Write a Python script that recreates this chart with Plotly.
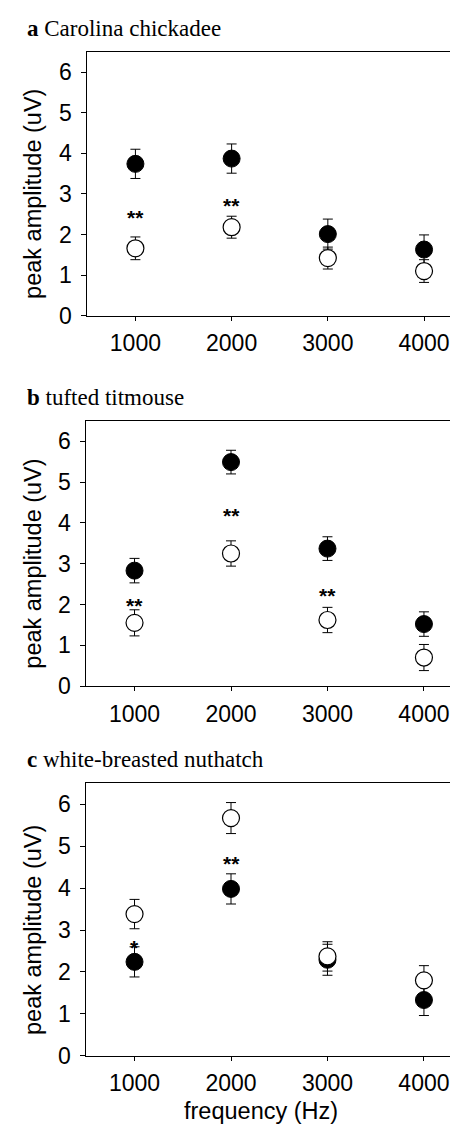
import plotly.graph_objects as go

W, H = 458, 1128

freqs = [1000, 2000, 3000, 4000]

# panel a: Carolina chickadee
a_filled = [3.74, 3.87, 2.01, 1.63]
a_filled_err = [0.36, 0.36, 0.37, 0.36]
a_open = [1.66, 2.18, 1.42, 1.10]
a_open_err = [0.28, 0.27, 0.27, 0.28]
a_sig_x = [1000, 2000]
a_sig_y = [2.57, 2.86]
a_sig_txt = ["**", "**"]

# panel b: tufted titmouse
b_filled = [2.83, 5.49, 3.37, 1.52]
b_filled_err = [0.30, 0.29, 0.29, 0.30]
b_open = [1.55, 3.25, 1.62, 0.70]
b_open_err = [0.32, 0.31, 0.31, 0.32]
b_sig_x = [1000, 2000, 3000]
b_sig_y = [2.12, 4.32, 2.36]
b_sig_txt = ["**", "**", "**"]

# panel c: white-breasted nuthatch
c_filled = [2.24, 3.98, 2.29, 1.33]
c_filled_err = [0.36, 0.36, 0.37, 0.37]
c_open = [3.38, 5.67, 2.37, 1.80]
c_open_err = [0.35, 0.37, 0.35, 0.35]
c_sig_x = [1000, 2000]
c_sig_y = [2.73, 4.73]
c_sig_txt = ["*", "**"]

panel_letters = ["a", "b", "c"]
panel_names = ["Carolina chickadee", "tufted titmouse", "white-breasted nuthatch"]
y_ticks = [0, 1, 2, 3, 4, 5, 6]
x_title = "frequency (Hz)"
y_title = "peak amplitude (uV)"

SANS = "Liberation Sans, Arial, Helvetica, sans-serif"
SERIF = "Liberation Serif, Times New Roman, serif"

# pixel layout of each panel box (top, bottom) and left edge
boxes = [(44.3, 311.3, 79.3), (417.7, 686.0, 78.3), (784.3, 1060.0, 78.3)]

panels = [
    (a_filled, a_filled_err, a_open, a_open_err, a_sig_x, a_sig_y, a_sig_txt),
    (b_filled, b_filled_err, b_open, b_open_err, b_sig_x, b_sig_y, b_sig_txt),
    (c_filled, c_filled_err, c_open, c_open_err, c_sig_x, c_sig_y, c_sig_txt),
]

fig = go.Figure()
annotations = []
layout = dict(
    width=W, height=H,
    margin=dict(l=0, r=0, t=0, b=0),
    paper_bgcolor="white", plot_bgcolor="white",
    showlegend=False,
    font=dict(family=SANS, color="black"),
)

for i, (filled, ferr, opn, oerr, sx, sy, stxt) in enumerate(panels):
    n = "" if i == 0 else str(i + 1)
    xa, ya = "x" + n, "y" + n
    top, bot, left = boxes[i]
    # filled circles
    fig.add_trace(go.Scatter(
        x=freqs, y=filled, xaxis=xa, yaxis=ya, mode="markers",
        marker=dict(symbol="circle", size=17, color="black",
                    line=dict(color="black", width=1)),
        error_y=dict(type="data", array=ferr, color="black", thickness=1, width=5),
        cliponaxis=False,
    ))
    # open circles
    fig.add_trace(go.Scatter(
        x=freqs, y=opn, xaxis=xa, yaxis=ya, mode="markers",
        marker=dict(symbol="circle", size=17, color="white",
                    line=dict(color="black", width=1.2)),
        error_y=dict(type="data", array=oerr, color="black", thickness=1, width=5),
        cliponaxis=False,
    ))
    for x, y, t in zip(sx, sy, stxt):
        annotations.append(dict(
            x=x, y=y, xref=xa, yref=ya, text="<b>" + t + "</b>", showarrow=False,
            font=dict(family=SANS, size=21, color="black"),
            xanchor="center", yanchor="middle", yshift=-6,
        ))
    layout["xaxis" + n] = dict(
        domain=[left / W, 1.0], range=[500, 4436], anchor=ya,
        tickvals=freqs, ticktext=[str(f) for f in freqs],
        showline=True, linecolor="black", linewidth=1, mirror=True,
        ticks="outside", ticklen=4, tickwidth=1, tickcolor="black",
        showgrid=False, zeroline=False,
        tickfont=dict(family=SANS, size=23, color="black"),
        ticklabelstandoff=3,
    )
    layout["yaxis" + n] = dict(
        domain=[1 - bot / H, 1 - top / H], range=[0, 6.5], anchor=xa,
        tickvals=y_ticks,
        showline=True, linecolor="black", linewidth=1,
        ticks="outside", ticklen=5, tickwidth=1, tickcolor="black",
        showgrid=False, zeroline=False,
        tickfont=dict(family=SANS, size=23, color="black"),
        ticklabelstandoff=5,
    )
    # y axis title
    annotations.append(dict(
        x=25 / W, y=3, xref="paper", yref=ya, text=y_title, textangle=-90,
        showarrow=False, xanchor="center", yanchor="middle",
        font=dict(family=SANS, size=23.5, color="black"),
    ))
    # panel title
    annotations.append(dict(
        x=17 / W, y=1 - (top - 24) / H, xref="paper", yref="paper",
        text="<b>" + panel_letters[i] + "</b> " + panel_names[i],
        showarrow=False, xanchor="left", yanchor="middle",
        font=dict(family=SERIF, size=23, color="black"),
    ))

annotations.append(dict(
    x=253 / W, y=1 - 1116 / H, xref="paper", yref="paper", text=x_title,
    showarrow=False, xanchor="center", yanchor="middle",
    font=dict(family=SANS, size=23.5, color="black"),
))

layout["annotations"] = annotations
fig.update_layout(**layout)
fig.write_html("out.html")
